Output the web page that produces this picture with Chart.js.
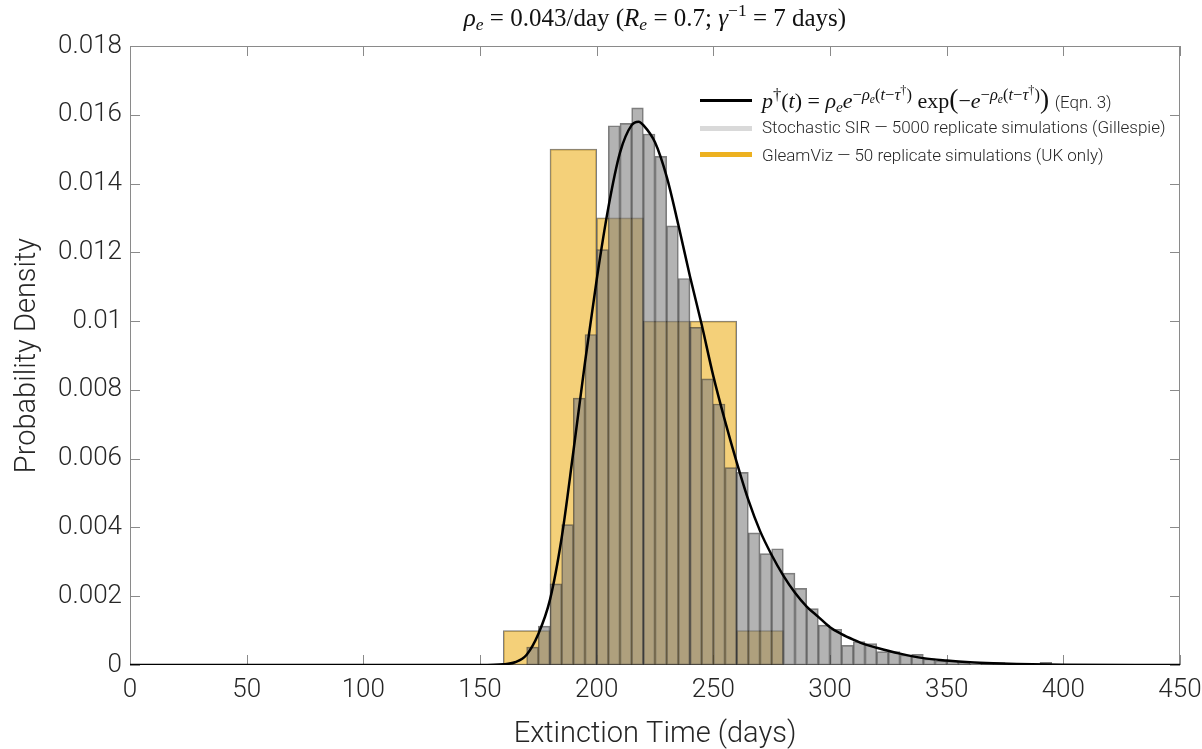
<!DOCTYPE html>
<html>
<head>
<meta charset="utf-8">
<script src="https://cdn.jsdelivr.net/npm/chart.js@4.4.1/dist/chart.umd.min.js"></script>
<style>
  body { margin: 0; background: #fff; }
  #wrap { position: relative; width: 1202px; height: 749px; }
  #title {
    position: absolute; left: 0; width: 1310px; top: 4px; text-align: center;
    font-family: 'Liberation Serif', serif; font-size: 25px; color: #111;
  }
  #title sub, #legend sub { font-size: 70%; vertical-align: -0.25em; line-height: 0; }
  #title sup { font-size: 70%; vertical-align: 0.55em; line-height: 0; }
  #legend sup { font-size: 75%; vertical-align: 0.5em; line-height: 0; }
  #legend { position: absolute; left: 700px; top: 86px; color: #262626; }
  .row { position: relative; height: 28px; white-space: nowrap; }
  .swatch { position: absolute; left: 0; width: 52px; }
  .txt { position: absolute; left: 62px; font-family: Roboto, sans-serif; font-weight: 300; font-size: 17px; top: 3px; }
  .math { font-family: 'Liberation Serif', serif; font-size: 22px; top: -3px; color: #111; }
  .math .sans { font-family: Roboto, sans-serif; font-weight: 300; font-size: 17px; color: #262626; }
  .big { font-size: 125%; }
</style>
</head>
<body>
<div id="wrap">
  <canvas id="histChart" width="1202" height="749"></canvas>
  <div id="title"><i>ρ<sub>e</sub></i> = 0.043/day (<i>R<sub>e</sub></i> = 0.7; <i>γ</i><sup>−1</sup> = 7 days)</div>
  <div id="legend">
    <div class="row"><span class="swatch" style="top:13px;height:3px;background:#000"></span>
      <span class="txt math"><i>p</i><sup>†</sup>(<i>t</i>) = <i>ρ<sub>e</sub>e</i><sup>−<i>ρ<sub>e</sub></i>(<i>t</i>−<i>τ</i><sup>†</sup>)</sup> exp<span class="big">(</span>−<i>e</i><sup>−<i>ρ<sub>e</sub></i>(<i>t</i>−<i>τ</i><sup>†</sup>)</sup><span class="big">)</span> <span class="sans">(Eqn. 3)</span></span></div>
    <div class="row"><span class="swatch" style="top:12px;height:5px;background:#d9d9d9"></span>
      <span class="txt">Stochastic SIR — 5000 replicate simulations (Gillespie)</span></div>
    <div class="row"><span class="swatch" style="top:10px;height:5px;background:#edb120"></span>
      <span class="txt">GleamViz — 50 replicate simulations (UK only)</span></div>
  </div>
</div>
<script>
document.addEventListener('DOMContentLoaded', function() {

  /* Data */

  const grayBinLeft = [170, 175, 180, 185, 190, 195, 200, 205, 210, 215, 220, 225, 230, 235, 240,
    245, 250, 255, 260, 265, 270, 275, 280, 285, 290, 295, 300, 305, 310, 315, 320, 325, 330,
    335, 340, 345, 350, 355, 360, 365, 370, 375, 380, 385, 390];
  const grayValues = [0.00052, 0.00113, 0.00236, 0.00408, 0.00776, 0.00961, 0.01208, 0.01568,
    0.01575, 0.0162, 0.01544, 0.01479, 0.01277, 0.01124, 0.00982, 0.00832, 0.00759, 0.00574,
    0.0056, 0.00384, 0.00324, 0.00338, 0.00267, 0.00223, 0.00164, 0.00116, 0.00104, 0.00057,
    0.00068, 0.00062, 0.00039, 0.00039, 0.00029, 0.00031, 0.00018, 0.00012, 0.00012, 0.00007,
    0.00003, 0.00007, 0.00007, 0.00002, 0, 0, 0.00008];
  const grayBinWidth = 5;

  const yellowBinLeft = [160, 180, 200, 220, 240, 260];
  const yellowValues = [0.001, 0.015, 0.013, 0.01, 0.01, 0.001];
  const yellowBinWidth = 20;

  const curveDays = [0, 150, 160, 165, 170, 175, 180, 185, 190, 195, 200, 205, 210, 215, 218,
    220, 225, 230, 235, 240, 245, 250, 255, 260, 265, 270, 275, 280, 285, 290, 295, 300, 305,
    310, 315, 320, 330, 340, 350, 360, 370, 380, 400, 450];
  const curveValues = [0, 0, 0.00002, 0.00008, 0.0003, 0.0009, 0.0019, 0.0037, 0.0062, 0.0088,
    0.0112, 0.0133, 0.0149, 0.0157, 0.0158, 0.0157, 0.0152, 0.0142, 0.0128, 0.0113, 0.0099,
    0.0084, 0.0071, 0.0059, 0.0048, 0.0039, 0.0032, 0.0026, 0.0021, 0.0017, 0.0014, 0.0011,
    0.0009, 0.00074, 0.0006, 0.0005, 0.00033, 0.0002, 0.00013, 0.00008, 0.00005, 0.00003,
    0.00001, 0];

  const xTickLabels = ['0', '50', '100', '150', '200', '250', '300', '350', '400', '450'];
  const yTickLabels = ['0', '0.002', '0.004', '0.006', '0.008', '0.01', '0.012', '0.014', '0.016', '0.018'];

  const axisColor = '#262626';
  const tickFont = { family: 'Roboto', weight: '300', size: 26 };
  const titleFont = { family: 'Roboto', weight: '300', size: 29, lineHeight: 1.0 };

  /* Box and inward ticks, MATLAB style */

  const boxPlugin = {
    id: 'boxTicks',
    beforeDatasetsDraw(chart) {
      const { ctx, chartArea: a, scales } = chart;
      ctx.save();
      ctx.strokeStyle = '#8a8a8a';
      ctx.lineWidth = 1;
      ctx.strokeRect(a.left + 0.5, a.top + 0.5, a.right - a.left - 1, a.bottom - a.top - 1);
      ctx.beginPath();
      const len = 10;
      scales.x.ticks.forEach(t => {
        const px = Math.round(scales.x.getPixelForValue(t.value)) + 0.5;
        ctx.moveTo(px, a.bottom); ctx.lineTo(px, a.bottom - len);
        ctx.moveTo(px, a.top); ctx.lineTo(px, a.top + len);
      });
      scales.y.ticks.forEach(t => {
        const py = Math.round(scales.y.getPixelForValue(t.value)) + 0.5;
        ctx.moveTo(a.left, py); ctx.lineTo(a.left + len, py);
        ctx.moveTo(a.right, py); ctx.lineTo(a.right - len, py);
      });
      ctx.stroke();
      ctx.restore();
    }
  };

  const ctx = document.getElementById('histChart').getContext('2d');
  new Chart(ctx, {
    type: 'bar',
    data: {
      datasets: [
        {
          type: 'line',
          label: 'Eqn. 3',
          data: curveDays.map((d, i) => ({ x: d, y: curveValues[i] })),
          borderColor: '#000',
          borderWidth: 2.5,
          pointRadius: 0,
          cubicInterpolationMode: 'monotone',
          xAxisID: 'x',
          order: 0
        },
        {
          label: 'Stochastic SIR',
          data: grayBinLeft.map((d, i) => ({ x: d + grayBinWidth / 2, y: grayValues[i] })),
          backgroundColor: 'rgba(128, 128, 128, 0.6)',
          borderColor: 'rgba(40, 40, 40, 0.6)',
          borderWidth: 1,
          borderSkipped: false,
          grouped: false,
          barPercentage: 1,
          categoryPercentage: 1,
          xAxisID: 'x',
          order: 1
        },
        {
          label: 'GleamViz',
          data: yellowBinLeft.map((d, i) => ({ x: d + yellowBinWidth / 2, y: yellowValues[i] })),
          backgroundColor: 'rgba(237, 177, 32, 0.6)',
          borderColor: 'rgba(40, 40, 40, 0.6)',
          borderWidth: 1,
          borderSkipped: false,
          grouped: false,
          barPercentage: 1,
          categoryPercentage: 1,
          xAxisID: 'x2',
          order: 2
        }
      ]
    },
    options: {
      responsive: false,
      animation: false,
      layout: { padding: { top: 46, right: 22, left: 0, bottom: 0 } },
      plugins: {
        legend: { display: false },
        tooltip: { enabled: false }
      },
      scales: {
        x: {
          type: 'linear',
          min: 0,
          max: 450,
          offset: false,
          afterFit: s => { s.height = 84; s.paddingLeft = 0; s.paddingRight = 0; },
          grid: { display: false, drawTicks: false },
          border: { display: false },
          ticks: {
            stepSize: 50,
            padding: 10,
            color: axisColor,
            font: tickFont,
            maxRotation: 0,
            callback: (v, i) => xTickLabels[i]
          },
          title: {
            display: true,
            text: 'Extinction Time (days)',
            color: axisColor,
            font: titleFont,
            padding: { top: 0, bottom: 0 }
          }
        },
        x2: {
          type: 'linear',
          display: false,
          min: 0,
          max: 450,
          offset: false,
          ticks: { stepSize: 50 }
        },
        y: {
          min: 0,
          max: 0.018,
          afterFit: s => { s.width = 130; s.paddingTop = 0; s.paddingBottom = 0; },
          grid: { display: false, drawTicks: false },
          border: { display: false },
          ticks: {
            stepSize: 0.002,
            padding: 8,
            color: axisColor,
            font: tickFont,
            callback: (v, i) => yTickLabels[i]
          },
          title: {
            display: true,
            text: 'Probability Density',
            color: axisColor,
            font: titleFont,
            padding: { top: 13, bottom: 0 }
          }
        }
      }
    },
    plugins: [boxPlugin]
  });
});
</script>
</body>
</html>
